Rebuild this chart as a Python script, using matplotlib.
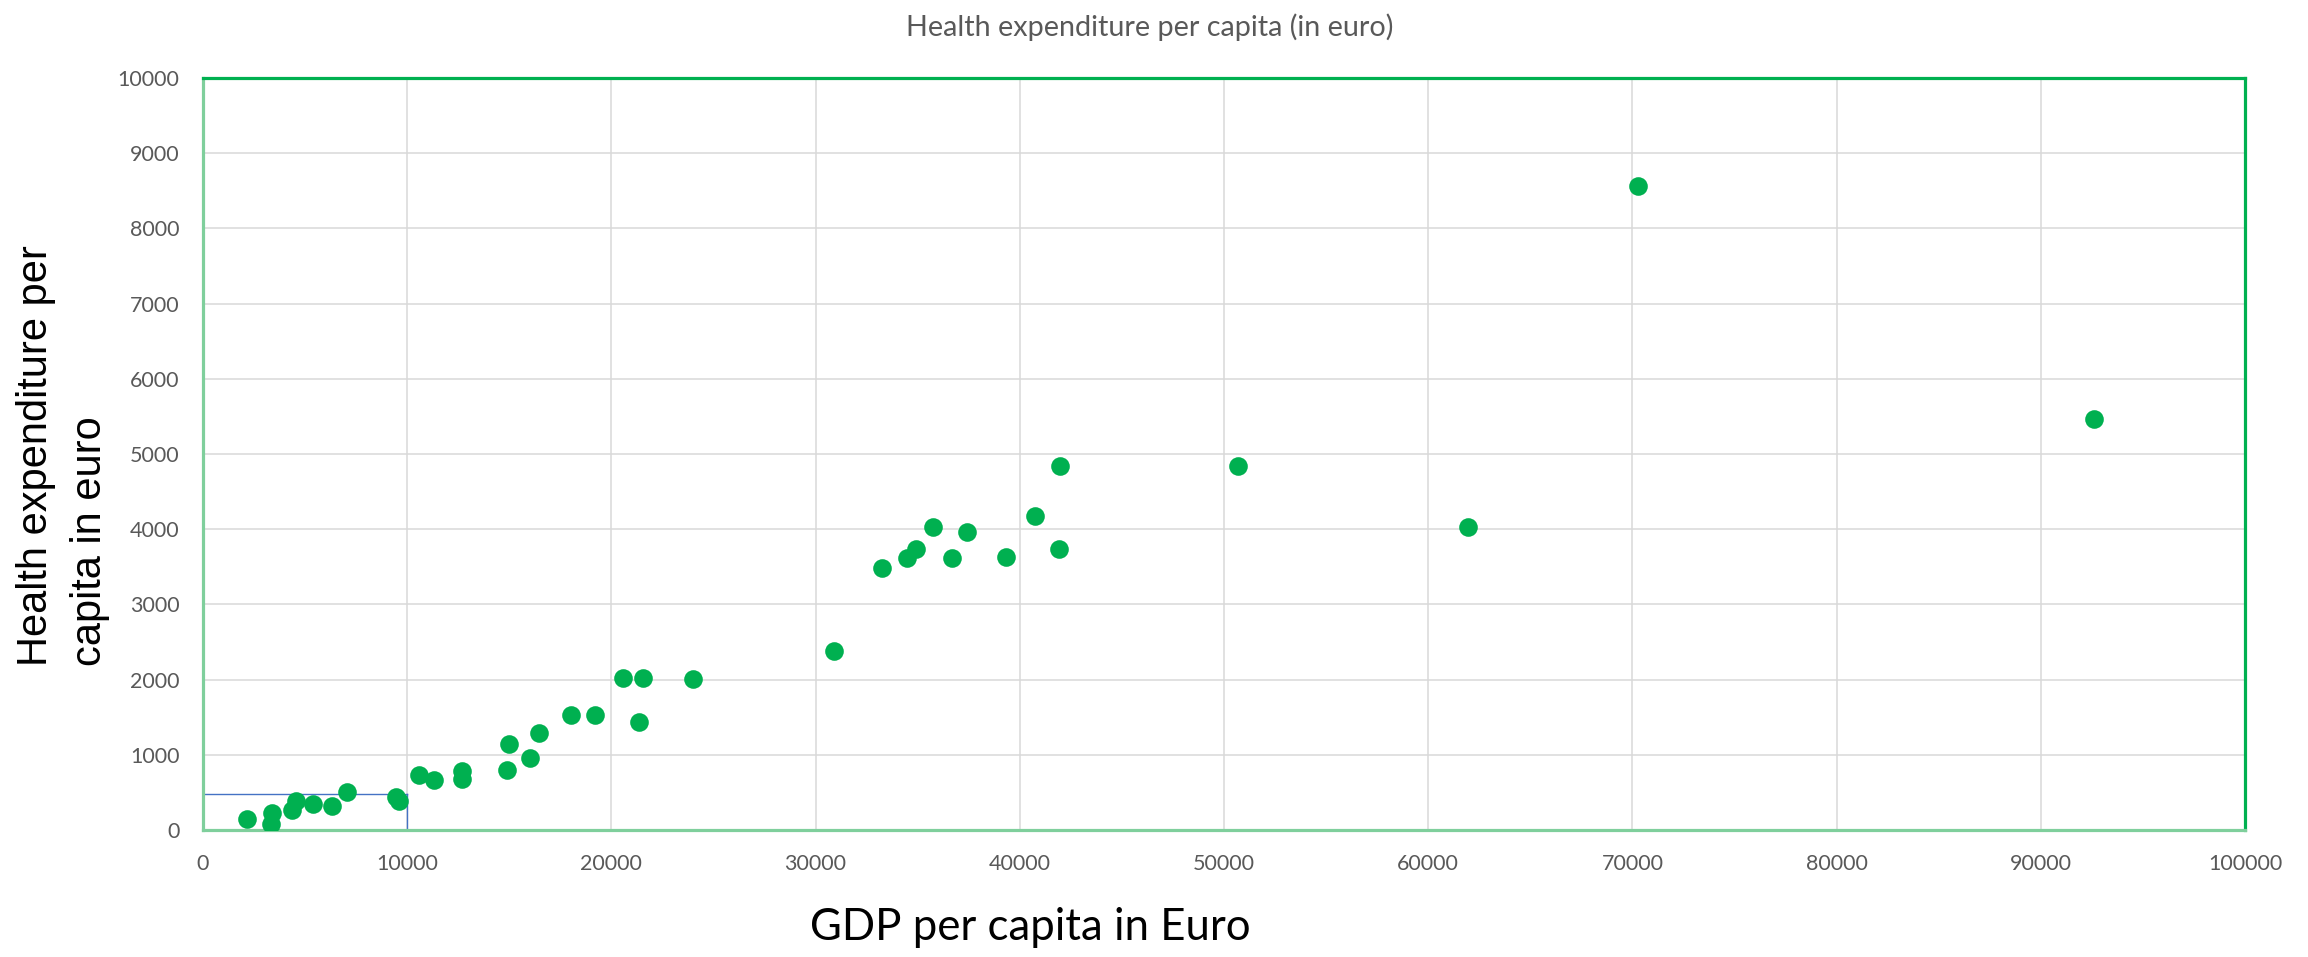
import numpy as np
import matplotlib.pyplot as plt

# GDP per capita vs. health expenditure per capita (euro)
gdp_per_capita = [2150, 3400, 3330, 4350, 4550, 5400, 6330, 7060, 9440, 9590,
                  10560, 11310, 12660, 12680, 14870, 14970, 16000, 16430, 18040, 19220,
                  21350, 20560, 21570, 24000, 30880, 33260, 34490, 34900, 35730, 36700,
                  37420, 39340, 40720, 41990, 41920, 50680, 61950, 70250, 92600]
health_per_capita = [145, 225, 80, 270, 380, 350, 320, 500, 435, 380,
                     730, 670, 790, 680, 800, 1140, 955, 1285, 1525, 1535,
                     1440, 2020, 2020, 2005, 2380, 3480, 3620, 3735, 4030, 3620,
                     3960, 3630, 4180, 4840, 3735, 4840, 4030, 8570, 5460]

# marker box for the low-income corner
box_x = 10000
box_y = 480

x_ticks = np.arange(0, 100001, 10000)
y_ticks = np.arange(0, 10001, 1000)

green = "#00B050"
grey_text = "#595959"

fig = plt.figure(figsize=(23.08, 9.57), dpi=100)
ax = fig.add_axes([0.08796, 0.13271, 0.97270 - 0.08796, 0.91850 - 0.13271])

ax.scatter(gdp_per_capita, health_per_capita, s=180, color=green, zorder=3,
           linewidths=0)

ax.plot([0, box_x], [box_y, box_y], color="#4472C4", lw=1.0, zorder=2)
ax.plot([box_x, box_x], [0, box_y], color="#4472C4", lw=1.0, zorder=2)

ax.set_xlim(0, 100000)
ax.set_ylim(0, 10000)
ax.set_xticks(x_ticks)
ax.set_yticks(y_ticks)
ax.grid(True, color="#d9d9d9", lw=1.1, zorder=0)
ax.set_axisbelow(True)
ax.tick_params(length=0, labelsize=15.5, labelcolor=grey_text, pad=17)
for lbl in ax.get_xticklabels() + ax.get_yticklabels():
    lbl.set_family("Lato")

for side in ["top", "right"]:
    ax.spines[side].set_color(green)
    ax.spines[side].set_linewidth(2.3)
for side in ["left", "bottom"]:
    ax.spines[side].set_color("#7fcf9c")
    ax.spines[side].set_linewidth(2.3)

fig.text(0.4983, 1 - 27 / 957, "Health expenditure per capita (in euro)",
         ha="center", va="center", fontsize=20.7, color=grey_text, family="Lato")
fig.text(1030 / 2308, 1 - 928 / 957, "GDP per capita in Euro",
         ha="center", va="center", fontsize=31.5, color="black", family="Lato")
fig.text(63 / 2308, 1 - 666 / 957, "Health expenditure per\ncapita in euro",
         ha="left", va="center", rotation=90, rotation_mode="anchor",
         multialignment="left", fontsize=30, color="black",
         family="Liberation Sans", linespacing=1.42)

fig.savefig("out.png", dpi=100)
